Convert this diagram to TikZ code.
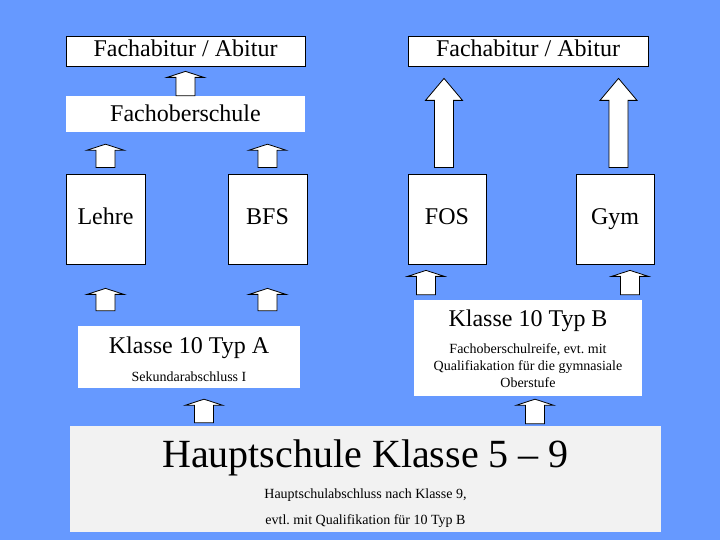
\documentclass[tikz,border=0pt]{standalone}
\usepackage{fontspec}
\setmainfont{Liberation Serif}
\usepackage{xcolor}
\usepackage{tikz}
\usetikzlibrary{calc}
\definecolor{hgblau}{RGB}{102,153,255}
\definecolor{hellgrau}{RGB}{242,242,242}
\tikzset{
  kasten/.style={fill=white,inner sep=0pt,text height=17pt,text depth=5pt,
                 font=\fontsize{24}{28}\selectfont},
  rahmen/.style={kasten,draw=black,line width=0.8pt},
  titel/.style={anchor=base,inner sep=0pt,font=\fontsize{24}{28}\selectfont},
  klein/.style={anchor=base,inner sep=0pt,align=center,font=\fontsize{14}{17}\selectfont},
  pfeil/.style={draw=black,fill=white,line width=0.8pt,line join=miter}
}
% #1 Spitzenlaenge, #2 x-Lage, #3 Anfang, #4 Spitze
\newcommand{\pfeil}[4][6pt]{%
  \draw[pfeil] let \p1=(#2), \p2=(#3), \p3=(#4) in
    (\x1-9.5pt,\y2) -- (\x1-9.5pt,\y3-#1) -- (\x1-18.5pt,\y3-#1) -- (\x1,\y3)
    -- (\x1+18.5pt,\y3-#1) -- (\x1+9.5pt,\y3-#1) -- (\x1+9.5pt,\y2) -- cycle;}

\begin{document}
\begin{tikzpicture}[x=1pt,y=1pt]
      \fill[hgblau](0,0) rectangle (720,540);
      \node[rahmen,minimum width=239pt,minimum height=30pt](abiL) at (185.5,489){Fachabitur / Abitur};
      \node[kasten,text depth=1pt,minimum width=239pt,minimum height=36pt](fachober) at (185.5,426){Fachoberschule};
      \node[rahmen,minimum width=79pt,minimum height=90pt](lehre) at (105.5,321){Lehre};
      \node[rahmen,minimum width=79pt,minimum height=90pt](bfs) at (267.5,321){BFS};
      \node[rahmen,minimum width=240pt,minimum height=30pt](abiR) at (528,489){Fachabitur / Abitur};
      \node[rahmen,minimum width=78pt,minimum height=90pt](fos) at (447,321){FOS};
      \node[rahmen,minimum width=78pt,minimum height=90pt](gym) at (615,321){Gym};
      \node[kasten,minimum width=222pt,minimum height=62pt](k10a) at (189,183){};
      \node[kasten,minimum width=228pt,minimum height=96pt](k10b) at (528,192){};
      \node[kasten,fill=hellgrau,minimum width=591pt,minimum height=106pt](haupt) at (365.5,61){};
      \node[titel](k10a-titel) at ([yshift=-28pt]k10a.north){Klasse 10 Typ A};
      \node[klein](k10a-text) at ([yshift=-56pt]k10a.north){Sekundarabschluss I};
      \node[titel](k10b-titel) at ([yshift=-27pt]k10b.north){Klasse 10 Typ B};
      \node[klein](k10b-text) at ([yshift=-88pt]k10b.north){Fachoberschulreife, evt.\ mit\\Qualifiakation für die gymnasiale\\Oberstufe};
      \node[titel,font=\fontsize{40}{46}\selectfont](haupt-titel) at ([yshift=-42pt]haupt.north){Hauptschule Klasse 5 – 9};
      \node[klein,font=\fontsize{14}{26}\selectfont](haupt-text) at ([yshift=-99pt]haupt.north){Hauptschulabschluss nach Klasse 9,\\evtl.\ mit Qualifikation für 10 Typ B};
      \pfeil{fachober}{fachober.north}{[yshift=-5pt]abiL.south}
      \foreach \k in {lehre,bfs}{
        \pfeil{\k}{[yshift=6pt]\k.north}{[yshift=-12pt]fachober.south}
        \pfeil{\k}{[yshift=15pt]k10a.north}{[yshift=-24pt]\k.south}
      }
      \pfeil{[xshift=15pt]k10a.south}{[yshift=3pt]haupt.north}{[yshift=-11pt]k10a.south}
      \pfeil{[xshift=-21pt]fos.south}{[yshift=5pt]k10b.north}{[yshift=-6pt]fos.south}
      \pfeil{[xshift=15pt]gym.south}{[yshift=5pt]k10b.north}{[yshift=-6pt]gym.south}
      \pfeil{[xshift=7pt]k10b.south}{[yshift=2pt]haupt.north}{[yshift=-3pt]k10b.south}
      \pfeil[22pt]{[xshift=-3pt]fos.north}{[yshift=6pt]fos.north}{[yshift=-12pt]abiR.south}
      \pfeil[22pt]{[xshift=3.5pt]gym.north}{[yshift=6pt]gym.north}{[yshift=-12pt]abiR.south}
    \end{tikzpicture}
\end{document}
